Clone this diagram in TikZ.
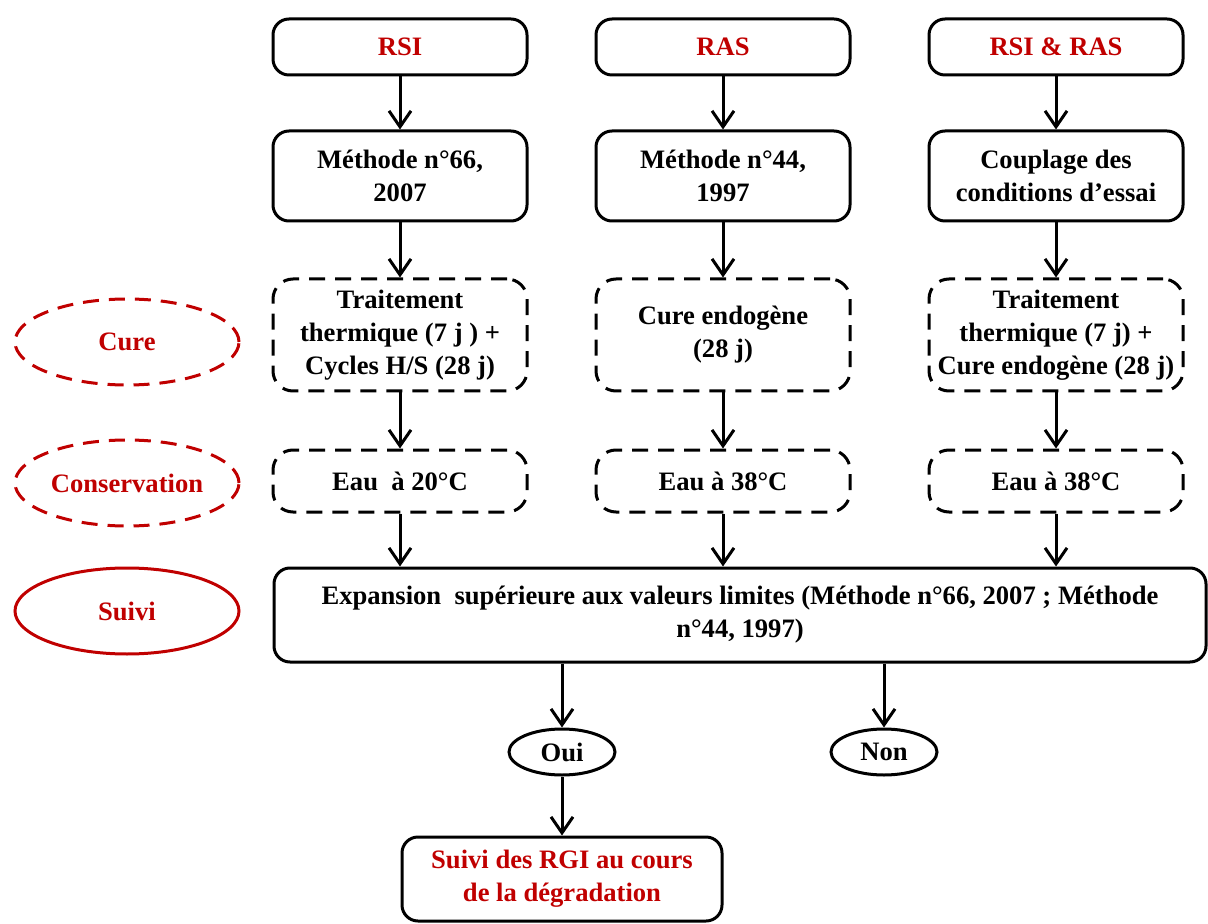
\documentclass[tikz,border=0pt]{standalone}
\usepackage{fontspec}
\setmainfont{Liberation Serif}
\usetikzlibrary{arrows.meta,shapes.geometric}
\definecolor{rouge}{RGB}{192,0,0}
\tikzset{
  boite/.style={draw, line width=1.5pt, rounded corners=8pt, align=center,
    font=\bfseries\fontsize{13.3}{16.5}\selectfont, inner sep=2pt,
    minimum width=127pt},
  boitept/.style={boite, rounded corners=10pt, dash pattern=on 8pt off 5pt},
  etiquette/.style={ellipse, draw=rouge, text=rouge, line width=1.5pt,
    font=\bfseries\fontsize{13.3}{16.5}\selectfont, minimum width=112pt,
    minimum height=43pt, inner sep=0pt},
  choix/.style={ellipse, draw, line width=1.5pt,
    font=\bfseries\fontsize{13.3}{16.5}\selectfont, minimum width=53pt,
    minimum height=23pt, inner sep=0pt},
  fleche/.style={line width=1.5pt, -{Straight Barb[length=8pt,width=11pt,line width=1.5pt]}}
}

\begin{document}
\begin{tikzpicture}[x=0.5pt, y=-0.5pt]
  \useasboundingbox (0,0) rectangle (1208,924);

  % Nodes
  \node[boite, minimum height=28pt, text=rouge] (RSI) at (400,47) {RSI};
  \node[boite, minimum height=28pt, text=rouge] (RAS) at (723,47) {RAS};
  \node[boite, minimum height=28pt, text=rouge] (RSIRAS) at (1056,47) {RSI \& RAS};

  \node[boite, minimum height=45pt] (M66) at (400,176) {Méthode n°66,\\2007};
  \node[boite, minimum height=45pt] (M44) at (723,176) {Méthode n°44,\\1997};
  \node[boite, minimum height=45pt] (Coup) at (1056,176) {Couplage des\\conditions d’essai};

  \node[boitept, minimum height=56pt] (Trait1) at (400,335) {Traitement\\thermique (7 j ) +\\Cycles H/S (28 j)};
  \node[boitept, minimum height=56pt] (Cure2) at (723,335) {Cure endogène\\(28 j)};
  \node[boitept, minimum height=56pt] (Trait3) at (1056,335) {Traitement\\thermique (7 j) +\\Cure endogène (28 j)};

  \node[boitept, minimum height=31pt] (Eau1) at (400,481) {Eau~ à 20°C};
  \node[boitept, minimum height=31pt] (Eau2) at (723,481) {Eau à 38°C};
  \node[boitept, minimum height=31pt] (Eau3) at (1056,481) {Eau à 38°C};

  \node[boite, minimum width=466pt, minimum height=47pt] (Exp) at (740,615)
    {Expansion~ supérieure aux valeurs limites (Méthode n°66, 2007 ; Méthode\\n°44, 1997)};

  \node[choix] (Oui) at (562,752) {Oui};
  \node[choix] (Non) at (884,752) {Non};

  \node[boite, minimum width=160pt, minimum height=42pt, text=rouge] (SuiviRGI) at (562,879)
    {Suivi des RGI au cours\\de la dégradation};

  \node[etiquette, dash pattern=on 8pt off 5pt] (Cure) at (127,342) {Cure};
  \node[etiquette, dash pattern=on 8pt off 5pt] (Conserv) at (127,483) {Conservation};
  \node[etiquette] (Suivi) at (127,611) {Suivi};

  % Edges
  \draw[fleche] (RSI) -- (M66);
  \draw[fleche] (RAS) -- (M44);
  \draw[fleche] (RSIRAS) -- (Coup);
  \draw[fleche] (M66) -- (Trait1);
  \draw[fleche] (M44) -- (Cure2);
  \draw[fleche] (Coup) -- (Trait3);
  \draw[fleche] (Trait1) -- (Eau1);
  \draw[fleche] (Cure2) -- (Eau2);
  \draw[fleche] (Trait3) -- (Eau3);
  \draw[fleche] (Eau1.south) -- (Eau1.south |- Exp.north);
  \draw[fleche] (Eau2.south) -- (Eau2.south |- Exp.north);
  \draw[fleche] (Eau3.south) -- (Eau3.south |- Exp.north);
  \draw[fleche] (Oui.north |- Exp.south) -- (Oui);
  \draw[fleche] (Non.north |- Exp.south) -- (Non);
  \draw[fleche] (Oui) -- (SuiviRGI);
\end{tikzpicture}
\end{document}
